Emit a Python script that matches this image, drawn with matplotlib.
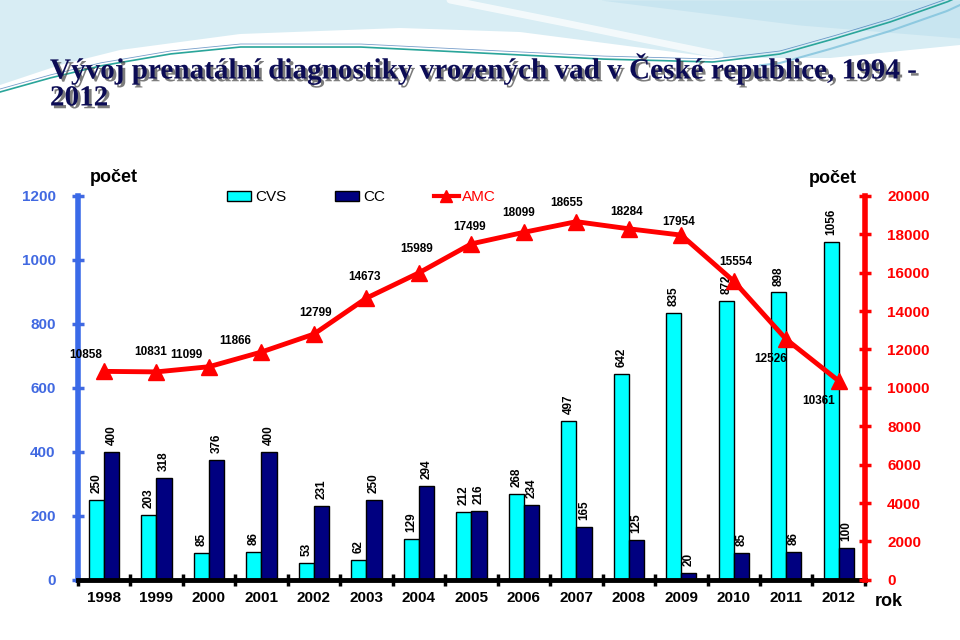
import numpy as np
import matplotlib.pyplot as plt
import matplotlib.patheffects as pe
from matplotlib.lines import Line2D
from matplotlib.patches import Patch

plt.rcParams['font.family'] = ['Liberation Sans', 'DejaVu Sans']

# data
roky = ['1998', '1999', '2000', '2001', '2002', '2003', '2004', '2005',
        '2006', '2007', '2008', '2009', '2010', '2011', '2012']
cvs = [250, 203, 85, 86, 53, 62, 129, 212, 268, 497, 642, 835, 872, 898, 1056]
cc = [400, 318, 376, 400, 231, 250, 294, 216, 234, 165, 125, 20, 85, 86, 100]
amc = [10858, 10831, 11099, 11866, 12799, 14673, 15989, 17499, 18099, 18655,
       18284, 17954, 15554, 12526, 10361]

# posun popisku AMC v pixelech (jen rozvrzeni)
amc_off = [(-18, 16), (-6, 20), (-23, 12), (-26, 11), (2, 21), (-2, 21), (-2, 24),
           (-2, 17), (-5, 19), (-10, 19), (-2, 17), (-3, 13), (2, 19), (-16, -20), (-20, -20)]

fig = plt.figure(figsize=(9.6, 6.4), dpi=100)
fig.patch.set_facecolor('white')

# pozadi - modre vlny nahore (jen dekorace)
bg = fig.add_axes([0, 0, 1, 1], zorder=-10)
bg.set_xlim(0, 960)
bg.set_ylim(640, 0)
bg.axis('off')
xs = np.linspace(0, 960, 400)
w_top = np.interp(xs, [0, 60, 120, 240, 400, 520, 720, 830, 960],
                  [85, 65, 50, 34, 28, 32, 58, 58, 45])
bg.fill_between(xs, 0, w_top, color='#d8edf4', lw=0)
bg.fill_between(xs, 0, np.interp(xs, [600, 800, 960], [0, 25, 38]), where=xs > 600,
                color='#c8e5f0', lw=0)
t = np.linspace(0, 1, 60)
bg.plot(np.interp(t, [0, 0.4, 1], [450, 560, 720]),
        np.interp(t, [0, 0.4, 1], [0, 22, 55]),
        color='white', lw=5, alpha=0.7, solid_capstyle='round')
teal = np.interp(xs, [0, 50, 100, 170, 240, 360, 480, 600, 713, 780, 830, 890, 947, 960],
                 [92, 78, 66, 54, 47, 47, 53, 59, 62, 54, 40, 22, 2, -4])
bg.plot(xs, teal, color='#2aa59a', lw=1.2)
bg.plot(xs, teal - 3, color='#1f5fa8', lw=0.6, alpha=0.6)
bg.plot(xs[xs > 760], teal[xs > 760] + 9, color='#7fc2dc', lw=1.5, alpha=0.8)

# nadpis
title = 'Vývoj prenatální diagnostiky vrozených vad v České republice, 1994 -\n2012'
fig.text(0.052, 0.918, title, family=['Liberation Serif', 'DejaVu Serif'], weight='bold',
         fontsize=21, color='#0c0c55', va='top', ha='left', linespacing=1.0,
         path_effects=[pe.withSimplePatchShadow(offset=(2, -2), shadow_rgbFace='#444444', alpha=0.7)])

ax = fig.add_axes([0.081, 0.094, 0.820, 0.600])
ax.patch.set_alpha(0)
ax2 = ax.twinx()

n = len(roky)
x = np.arange(n) + 0.5
w = 0.29
b1 = ax.bar(x - w / 2, cvs, w, color='#00ffff', edgecolor='black', lw=1, zorder=2)
b2 = ax.bar(x + w / 2, cc, w, color='#000080', edgecolor='black', lw=1, zorder=2)
for rect, v in list(zip(b1, cvs)) + list(zip(b2, cc)):
    ax.annotate(str(v), (rect.get_x() + rect.get_width() / 2, v), xytext=(0, 5),
                textcoords='offset points', rotation=90, ha='center', va='bottom',
                fontsize=8.5, weight='bold', color='black')

ax.set_xlim(0, n)
ax.set_ylim(0, 1200)
ax.set_yticks(range(0, 1201, 200))
ax.set_xticks(x)
ax.set_xticklabels(roky, fontsize=11, weight='bold')
ax.set_xticks(np.arange(n + 1), minor=True)
ax.tick_params(axis='x', which='major', length=0, pad=8)
ax.tick_params(axis='x', which='minor', length=8, width=2.5, direction='inout', color='black')
ax.tick_params(axis='y', colors='#4169e1', labelsize=11, length=8, width=2.5, direction='inout', pad=12)
for lab in ax.get_yticklabels():
    lab.set_weight('bold')
ax.spines['left'].set_color('#3a6ae8')
ax.spines['left'].set_linewidth(4)
ax.spines['bottom'].set_linewidth(3.5)
ax.spines['top'].set_visible(False)
ax.spines['right'].set_visible(False)

ax2.plot(x, amc, color='red', lw=3.5, marker='^', ms=11, zorder=3, clip_on=False)
for xi, v, (dx, dy) in zip(x, amc, amc_off):
    ax2.annotate(str(v), (xi, v), xytext=(dx, dy), textcoords='offset pixels',
                 ha='center', va='center', fontsize=8.5, weight='bold')
ax2.set_ylim(0, 20000)
ax2.set_yticks(range(0, 20001, 2000))
ax2.tick_params(axis='y', colors='red', labelsize=11, length=8, width=2.5, direction='inout', pad=12)
for lab in ax2.get_yticklabels():
    lab.set_weight('bold')
ax2.spines['right'].set_color('red')
ax2.spines['right'].set_linewidth(4)
for s in ['left', 'top', 'bottom']:
    ax2.spines[s].set_visible(False)

fig.text(0.094, 0.723, 'počet', fontsize=13, weight='bold', ha='left', va='center')
fig.text(0.843, 0.721, 'počet', fontsize=13, weight='bold', ha='left', va='center')
fig.text(0.911, 0.060, 'rok', fontsize=13, weight='bold', ha='left', va='center')

handles = [Patch(facecolor='#00ffff', edgecolor='black'),
           Patch(facecolor='#000080', edgecolor='black'),
           Line2D([], [], color='red', lw=3, marker='^', ms=8)]
leg = fig.legend(handles, ['CVS', 'CC', 'AMC'], loc='center left', bbox_to_anchor=(0.236, 0.692),
                 ncol=3, frameon=False, fontsize=11, handlelength=1.6, handleheight=0.6,
                 handletextpad=0.25, columnspacing=3.2, borderpad=0, borderaxespad=0)
leg.get_texts()[2].set_color('red')

fig.savefig('out.png', dpi=100)
